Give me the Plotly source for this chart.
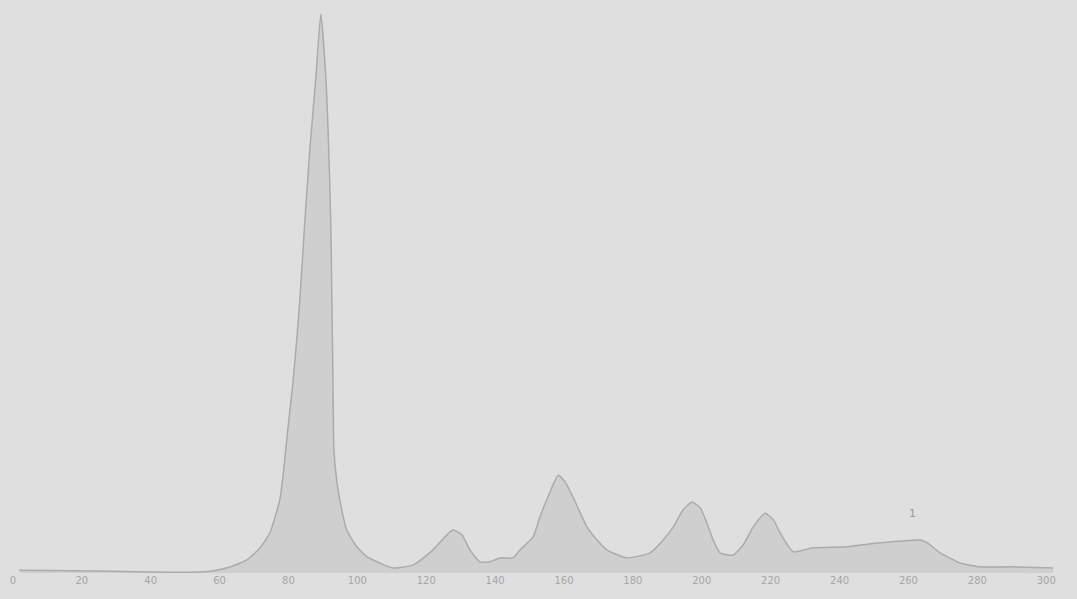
import plotly.graph_objects as go

# Retention time (min) and relative signal intensity (%)
time_min = [1.9, 25.2, 39.7, 54.3, 58.0, 63.0, 67.9, 71.7, 74.6, 77.5, 78.6, 79.8,
            81.3, 82.4, 83.3, 84.7, 86.2, 87.9, 89.4, 90.9, 91.7, 92.3, 92.6, 92.9,
            93.2, 94.0, 94.9, 96.9, 99.9, 102.8, 106.5, 110.3, 116.1, 121.9, 127.7,
            130.4, 132.7, 135.6, 138.5, 141.4, 145.2, 147.2, 151.0, 153.0, 155.6, 158.3,
            160.3, 162.6, 166.7, 169.6, 172.5, 178.3, 185.0, 188.8, 191.7, 194.6, 197.2,
            199.6, 201.5, 203.3, 205.3, 209.1, 212.0, 214.9, 218.4, 220.8, 222.7, 226.5,
            232.3, 242.2, 251.8, 263.4, 265.5, 269.2, 275.0, 280.8, 290.4, 302.0]
intensity = [0.5, 0.36, 0.18, 0.18, 0.36, 1.07, 2.33, 4.47, 7.16, 13.1, 18.4, 25.6,
             34.0, 41.7, 48.8, 62.3, 75.7, 88.2, 100.0, 88.2, 75.7, 62.3, 48.8, 35.4,
             22.0, 16.6, 13.1, 7.7, 4.65, 2.9, 1.8, 0.9, 1.4, 4.1, 7.7,
             6.8, 4.1, 2.0, 2.0, 2.7, 2.7, 4.1, 6.4, 10.0, 14.0, 17.5,
             16.3, 13.6, 8.2, 5.9, 4.1, 2.7, 3.6, 5.9, 8.2, 11.3, 12.7,
             11.6, 8.9, 5.9, 3.6, 3.2, 5.0, 8.2, 10.7, 9.5, 7.2, 3.8,
             4.5, 4.7, 5.4, 5.9, 5.4, 3.6, 1.8, 1.1, 1.1, 0.9]

tick_values = list(range(0, 301, 20))
tick_labels = [str(v) for v in tick_values]

peak_label = "1"
peak_label_time = 261.1
peak_label_intensity = 10.7

fig = go.Figure()
fig.add_trace(go.Scatter(
    x=time_min, y=intensity, mode="lines",
    line=dict(color="#ababab", width=1.5, shape="spline", smoothing=0.5),
    fill="tozeroy", fillcolor="rgba(175,175,175,0.32)",
    hoverinfo="skip", showlegend=False,
))

fig.add_annotation(x=peak_label_time, y=peak_label_intensity, text=peak_label,
                   showarrow=False, font=dict(size=11, color="#9a9a9a",
                                              family="DejaVu Sans"))

fig.update_xaxes(range=[-2, 304], tickvals=tick_values, ticktext=tick_labels,
                 showline=False, showgrid=False, zeroline=False, ticks="",
                 tickfont=dict(size=10, color="#a6a6a6", family="DejaVu Sans"))
fig.update_yaxes(range=[0, 102.5], visible=False, showgrid=False, zeroline=False)

fig.update_layout(width=1077, height=599,
                  margin=dict(l=6, r=17, t=0, b=26),
                  paper_bgcolor="#dfdfdf", plot_bgcolor="#dfdfdf")

fig.write_html(
    "out.html",
    config={"displayModeBar": False},
    post_script="document.body.style.margin='0';"
                "document.body.style.background='#dfdfdf';",
)
